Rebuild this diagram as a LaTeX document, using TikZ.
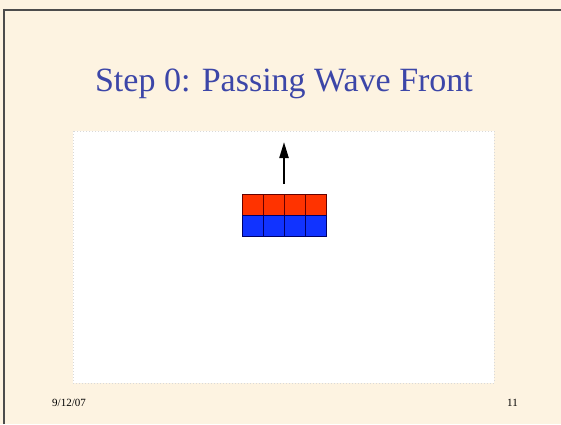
\documentclass[tikz,border=0pt]{standalone}
\usepackage{fontspec}
\setmainfont{Liberation Serif}
\usetikzlibrary{arrows.meta}
\definecolor{slidebg}{HTML}{FDF3E1}
\definecolor{titleblue}{HTML}{3C46A8}
\definecolor{cellred}{HTML}{FF3300}
\definecolor{cellblue}{HTML}{1133FF}
\tikzset{
  redcell/.style={draw=black!60!red, line width=0.7pt, fill=cellred, minimum width=21pt, minimum height=21pt, inner sep=0pt, anchor=north west},
  bluecell/.style={draw=black!60!blue, line width=0.7pt, fill=cellblue, minimum width=21pt, minimum height=21pt, inner sep=0pt, anchor=north west},
  movearrow/.style={line width=2.2pt, -{Triangle[length=16pt,width=9pt]}}
}
\begin{document}
\begin{tikzpicture}[x=1pt,y=-1pt]
\useasboundingbox (0,0) rectangle (561,424);
\fill[slidebg] (0,0) rectangle (561,424);
\draw[black!70, line width=1.2pt] (4,424) -- (4,10) -- (561,10);
\node[text=titleblue, font=\fontsize{34}{40}\selectfont, anchor=base] (title) at (284,91) {Step 0: Passing Wave Front};
\draw[black!15, line width=1pt, dotted, fill=white] (73,131) rectangle (494,383);
\foreach \i in {0,1,2,3} {
  \node[redcell] (r\i) at (242+21*\i,194) {};
  \node[bluecell] (b\i) at (242+21*\i,215) {};
}
\coordinate (atail) at (284,184);
\coordinate (ahead) at (284,142);
\draw[movearrow] (atail) -- (ahead);
\node[font=\fontsize{11}{13}\selectfont, anchor=base west, inner sep=0pt] (date) at (52,406) {9/12/07};
\node[font=\fontsize{11}{13}\selectfont, anchor=base east, inner sep=0pt] (pagenum) at (518,406) {11};
\end{tikzpicture}
\end{document}
